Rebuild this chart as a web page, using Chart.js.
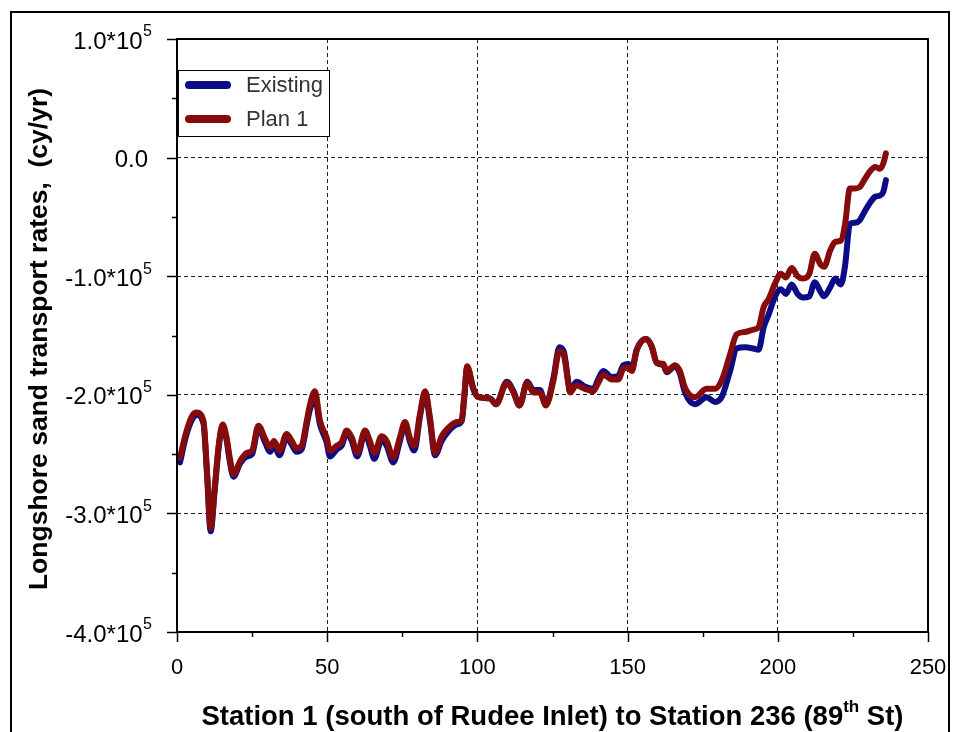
<!DOCTYPE html>
<html>
<head>
<meta charset="utf-8">
<script src="https://cdn.jsdelivr.net/npm/chart.js@4/dist/chart.umd.min.js"></script>
<style>
  html, body { margin: 0; padding: 0; background: #fff; }
  #wrap { width: 958px; height: 732px; position: relative; }
</style>
</head>
<body>
<div id="wrap"><canvas id="transportChart" width="958" height="732"></canvas></div>
<script>
// estaciones (eje x) y tasas de transporte (cy/yr)
const stations = [1, 3, 5, 6.6, 8.8, 10, 11.2, 12.5, 14, 15.2, 16.5, 17.5, 18.8, 21, 23.2, 25, 27.1, 29.3, 31, 32.3,
  34.1, 36.5, 38.2, 39.8, 41.5, 43.2, 44.3, 45.9, 47.6, 49.8, 50.9, 53.2, 54.8, 56.5, 58.2, 60, 62.6, 64.2, 65.7, 68.1,
  69.8, 72, 74.2, 75.9, 77.6, 79, 80.9, 82.6, 84.2, 85.9, 88.1, 90.3, 93.1, 94.8, 95.6, 96.6, 98.6, 100.3, 104.2, 106.2,
  109.8, 112, 114, 116.6, 118.6, 120.8, 122.8, 125.3, 127.3, 128.8, 130.3, 130.8, 133, 135.8, 138.6, 140.2, 141.9, 144.7, 146.9, 148.6,
  150.3, 151.4, 153, 156.1, 158, 159.7, 161.9, 163, 165.8, 167.4, 169.1, 172.4, 176.3, 179.1, 181.3, 184.1, 186.3, 189.1,
  191.9, 193.6, 195.3, 197, 199.1, 201, 202.7, 204.6, 206.6, 208.4, 210.5, 212.3, 214.2, 215.4, 217.5, 219.1, 221, 222.4,
  224, 225.7, 227.2, 229, 230.7, 232.4, 234, 235.1, 236];

const existing = [-257000, -235000, -221000, -217000, -224000, -267000, -315000, -282000, -242000, -227000, -238000, -255000, -269000, -258000, -252000, -250000, -228000, -240000, -248000, -242000,
  -251000, -236000, -242000, -248000, -246000, -225000, -212000, -203000, -225000, -240000, -252000, -246000, -243000, -232000, -239000, -252000, -232000, -243000, -254000, -238000,
  -243000, -257000, -239000, -225000, -240000, -247000, -218000, -199000, -222000, -251000, -239000, -231000, -225000, -222000, -203000, -177000, -195000, -202000, -203000, -208000,
  -189000, -197000, -209000, -189000, -196000, -196000, -208000, -186000, -160000, -164000, -190000, -197000, -189000, -193000, -195000, -187000, -180000, -185000, -184000, -175000,
  -174000, -178000, -162000, -153000, -159000, -173000, -175000, -181000, -176000, -182000, -198000, -208000, -202000, -206000, -202000, -180000, -161000, -160000,
  -161000, -162000, -143000, -132000, -117000, -111000, -115000, -107000, -115000, -118000, -117000, -105000, -113000, -117000, -109000, -102000, -107000, -91000,
  -56000, -55000, -53000, -45000, -38000, -33000, -32000, -29000, -19000];

const plan1 = [-253000, -232000, -218000, -215000, -222000, -265000, -312000, -280000, -240000, -225000, -236000, -252000, -267000, -256000, -249000, -247000, -226000, -237000, -244000, -239000,
  -247000, -233000, -239000, -245000, -243000, -222000, -208000, -197000, -222000, -236000, -247000, -243000, -240000, -230000, -236000, -249000, -230000, -239000, -249000, -235000,
  -239000, -253000, -236000, -223000, -237000, -243000, -216000, -197000, -219000, -249000, -235000, -228000, -223000, -221000, -202000, -176000, -194000, -202000, -203000, -208000,
  -190000, -198000, -209000, -190000, -198000, -198000, -209000, -188000, -163000, -167000, -191000, -198000, -192000, -195000, -197000, -190000, -183000, -187000, -187000, -178000,
  -177000, -180000, -163000, -153000, -159000, -173000, -174000, -180000, -175000, -180000, -194000, -202000, -195000, -195000, -188000, -166000, -149000, -147000,
  -145000, -143000, -126000, -119000, -106000, -98000, -101000, -93000, -100000, -102000, -98000, -81000, -90000, -92000, -78000, -71000, -70000, -56000,
  -26000, -26000, -25000, -18000, -11500, -8000, -9500, -5000, 3600];

// etiquetas de los ejes
const yTickValues = [100000, 0, -100000, -200000, -300000, -400000];
const yTickLabels = ['1.0*10', '0.0', '-1.0*10', '-2.0*10', '-3.0*10', '-4.0*10'];
const yTickExps = ['5', '', '5', '5', '5', '5'];
const xTickValues = [0, 50, 100, 150, 200, 250];

const FONT = "'Liberation Sans', Arial, sans-serif";

function toPoints(xs, ys) {
    return xs.map((s, i) => ({ x: s, y: ys[i] }));
}

// Dibuja marco, marcas, etiquetas, titulos y leyenda
const marcoPlugin = {
    id: 'marco',
    afterDraw(chart) {
        const ctx = chart.ctx;
        const a = chart.chartArea;
        const xs = chart.scales.x;
        const ys = chart.scales.y;
        ctx.save();
        ctx.strokeStyle = '#000';

        // marco exterior
        ctx.lineWidth = 2;
        ctx.strokeRect(11, 12, 938, 760);

        // caja del grafico
        ctx.strokeRect(a.left, a.top, a.right - a.left, a.bottom - a.top);

        // marcas eje y
        ctx.lineWidth = 1.5;
        for (let v = -400000; v <= 100000; v += 50000) {
            const py = Math.round(ys.getPixelForValue(v)) + 0.5;
            const len = (v % 100000 === 0) ? 10 : 5;
            ctx.beginPath();
            ctx.moveTo(a.left - len, py);
            ctx.lineTo(a.left, py);
            ctx.stroke();
        }
        // marcas eje x
        for (let v = 0; v <= 250; v += 25) {
            const px = Math.round(xs.getPixelForValue(v)) + 0.5;
            const len = (v % 50 === 0) ? 10 : 5;
            ctx.beginPath();
            ctx.moveTo(px, a.bottom);
            ctx.lineTo(px, a.bottom + len);
            ctx.stroke();
        }

        // etiquetas eje y
        ctx.fillStyle = '#000';
        ctx.textBaseline = 'middle';
        yTickValues.forEach((v, i) => {
            const py = ys.getPixelForValue(v) + 3;
            const right = 152;
            ctx.font = '16px ' + FONT;
            const expW = yTickExps[i] ? ctx.measureText(yTickExps[i]).width : 0;
            if (yTickExps[i]) {
                ctx.textAlign = 'right';
                ctx.fillText(yTickExps[i], right, py - 10);
            }
            ctx.font = '24px ' + FONT;
            ctx.textAlign = 'right';
            ctx.fillText(yTickLabels[i], right - expW - (yTickExps[i] ? 0.5 : 4), py);
        });

        // etiquetas eje x
        ctx.font = '22px ' + FONT;
        ctx.textAlign = 'center';
        xTickValues.forEach(v => {
            ctx.fillText(String(v), xs.getPixelForValue(v), 668);
        });

        // titulo eje x con superindice
        const partA = 'Station 1 (south of Rudee Inlet) to Station 236 (89';
        const partB = 'th';
        const partC = ' St)';
        ctx.font = 'bold 27.5px ' + FONT;
        const wA = ctx.measureText(partA).width;
        const wC = ctx.measureText(partC).width;
        ctx.font = 'bold 17px ' + FONT;
        const wB = ctx.measureText(partB).width;
        let tx = (a.left + a.right) / 2 - (wA + wB + wC) / 2;
        const ty = 717;
        ctx.textAlign = 'left';
        ctx.font = 'bold 27.5px ' + FONT;
        ctx.fillText(partA, tx, ty);
        ctx.font = 'bold 17px ' + FONT;
        ctx.fillText(partB, tx + wA, ty - 10);
        ctx.font = 'bold 27.5px ' + FONT;
        ctx.fillText(partC, tx + wA + wB, ty);

        // titulo eje y
        ctx.save();
        ctx.translate(40, 339);
        ctx.rotate(-Math.PI / 2);
        ctx.textAlign = 'center';
        ctx.font = 'bold 26.5px ' + FONT;
        ctx.fillText('Longshore sand transport rates,  (cy/yr)', 0, 0);
        ctx.restore();

        // leyenda
        const lx = a.left + 1, ly = 70, lw = 151, lh = 66;
        ctx.fillStyle = '#fff';
        ctx.fillRect(lx, ly, lw, lh);
        ctx.lineWidth = 1;
        ctx.strokeStyle = '#000';
        ctx.strokeRect(lx + 0.5, ly + 0.5, lw, lh);
        chart.data.datasets.forEach((ds, i) => {
            const yy = 85 + i * 34;
            ctx.strokeStyle = ds.borderColor;
            ctx.lineWidth = 8;
            ctx.lineCap = 'round';
            ctx.beginPath();
            ctx.moveTo(189, yy);
            ctx.lineTo(227, yy);
            ctx.stroke();
            ctx.fillStyle = '#333';
            ctx.font = '22px ' + FONT;
            ctx.textAlign = 'left';
            ctx.fillText(ds.label, 246, yy + 1);
        });
        ctx.restore();
    }
};

const ctx = document.getElementById('transportChart').getContext('2d');
const transportChart = new Chart(ctx, {
    type: 'line',
    data: {
        datasets: [{
            label: 'Existing',
            data: toPoints(stations, existing),
            borderColor: '#0c0c86',
            borderWidth: 6,
            order: 1
        }, {
            label: 'Plan 1',
            data: toPoints(stations, plan1),
            borderColor: '#860c0c',
            borderWidth: 6,
            order: 0
        }]
    },
    options: {
        responsive: false,
        animation: false,
        layout: {
            padding: { left: 177, top: 39, right: 30, bottom: 100 }
        },
        elements: {
            point: { radius: 0 },
            line: { cubicInterpolationMode: 'monotone', borderCapStyle: 'round', borderJoinStyle: 'round' }
        },
        plugins: {
            legend: { display: false },
            tooltip: { enabled: false }
        },
        scales: {
            x: {
                type: 'linear',
                min: 0,
                max: 250,
                ticks: { display: false, stepSize: 50 },
                grid: {
                    drawTicks: false,
                    color: c => (c.tick && c.tick.value > 0 && c.tick.value < 250) ? '#222' : 'rgba(0,0,0,0)'
                },
                border: { display: false, dash: [4, 3] }
            },
            y: {
                min: -400000,
                max: 100000,
                ticks: { display: false, stepSize: 100000 },
                grid: {
                    drawTicks: false,
                    color: c => (c.tick && c.tick.value > -400000 && c.tick.value < 100000) ? '#222' : 'rgba(0,0,0,0)'
                },
                border: { display: false, dash: [4, 3] }
            }
        }
    },
    plugins: [marcoPlugin]
});
</script>
</body>
</html>
